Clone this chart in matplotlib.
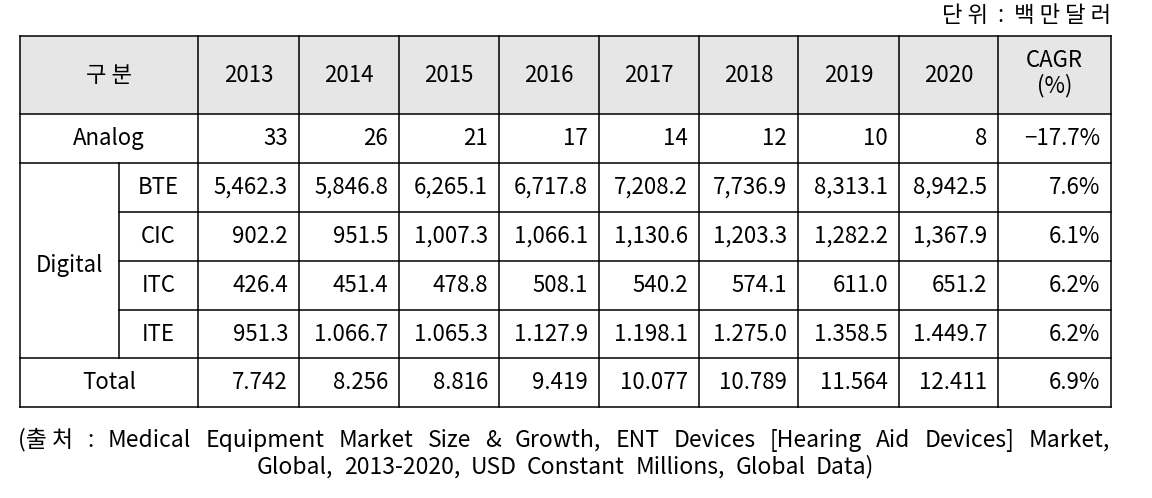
import matplotlib
matplotlib.use('Agg')
import matplotlib.pyplot as plt

plt.rcParams['font.family'] = ['Noto Sans CJK KR', 'DejaVu Sans']

# table data
years = ['2013', '2014', '2015', '2016', '2017', '2018', '2019', '2020']
analog = ['33', '26', '21', '17', '14', '12', '10', '8']
analog_cagr = '\u221217.7%'
digital_names = ['BTE', 'CIC', 'ITC', 'ITE']
bte = ['5,462.3', '5,846.8', '6,265.1', '6,717.8', '7,208.2', '7,736.9', '8,313.1', '8,942.5']
cic = ['902.2', '951.5', '1,007.3', '1,066.1', '1,130.6', '1,203.3', '1,282.2', '1,367.9']
itc = ['426.4', '451.4', '478.8', '508.1', '540.2', '574.1', '611.0', '651.2']
ite = ['951.3', '1.066.7', '1.065.3', '1.127.9', '1.198.1', '1.275.0', '1.358.5', '1.449.7']
digital_cagr = ['7.6%', '6.1%', '6.2%', '6.2%']
total = ['7.742', '8.256', '8.816', '9.419', '10.077', '10.789', '11.564', '12.411']
total_cagr = '6.9%'
unit_text = '단 위  :  백 만 달 러'
source_words = [['(출 처', ':', 'Medical', 'Equipment', 'Market', 'Size', '&', 'Growth,', 'ENT', 'Devices',
                 '[Hearing', 'Aid', 'Devices]', 'Market,'],
                ['Global,', '2013-2020,', 'USD', 'Constant', 'Millions,', 'Global', 'Data)']]

# layout (pixels)
W, H = 1152, 498
xs = [20, 198, 299, 399, 499, 599, 699, 798, 899, 998, 1111]
x_sub = 119
ys = [36, 114, 163, 212, 261, 310, 358, 407]
F = 16
F_src = 16.5
pad = 11
lw = 1.1

fig = plt.figure(figsize=(W / 100, H / 100), dpi=100)
ax = fig.add_axes([0, 0, 1, 1])
ax.set_xlim(0, W)
ax.set_ylim(H, 0)
ax.axis('off')

# header fill
ax.fill_between([xs[0], xs[-1]], ys[0], ys[1], color='#e6e6e6', lw=0)

# horizontal lines
for i, y in enumerate(ys):
    if 3 <= i <= 5:
        ax.plot([x_sub, xs[-1]], [y, y], color='black', lw=lw)
    else:
        ax.plot([xs[0], xs[-1]], [y, y], color='black', lw=lw)
# vertical lines
for x in xs:
    ax.plot([x, x], [ys[0], ys[-1]], color='black', lw=lw)
ax.plot([x_sub, x_sub], [ys[2], ys[6]], color='black', lw=lw)

def cy(r):
    return (ys[r] + ys[r + 1]) / 2

# header
ax.text((xs[0] + xs[1]) / 2, cy(0), '구 분', ha='center', va='center', fontsize=F)
for j, yr in enumerate(years):
    ax.text((xs[j + 1] + xs[j + 2]) / 2, cy(0), yr, ha='center', va='center', fontsize=F)
ax.text((xs[9] + xs[10]) / 2, cy(0) - 2, 'CAGR\n(%)', ha='center', va='center',
        fontsize=F, linespacing=1.1)

def row_values(r, vals, cagr):
    for j, v in enumerate(vals):
        ax.text(xs[j + 2] - pad, cy(r), v, ha='right', va='center', fontsize=F)
    ax.text(xs[10] - pad, cy(r), cagr, ha='right', va='center', fontsize=F)

# analog
ax.text((xs[0] + xs[1]) / 2, cy(1), 'Analog', ha='center', va='center', fontsize=F)
row_values(1, analog, analog_cagr)

# digital
ax.text((xs[0] + x_sub) / 2, (ys[2] + ys[6]) / 2 + 5, 'Digital', ha='center', va='center', fontsize=F)
for k, (name, vals) in enumerate(zip(digital_names, [bte, cic, itc, ite])):
    ax.text((x_sub + xs[1]) / 2, cy(2 + k), name, ha='center', va='center', fontsize=F)
    row_values(2 + k, vals, digital_cagr[k])

# total
ax.text((xs[0] + xs[1]) / 2, cy(6), 'Total', ha='center', va='center', fontsize=F)
row_values(6, total, total_cagr)

# unit
ax.text(xs[-1], 15, unit_text, ha='right', va='center', fontsize=F)

# source, words spread between given left/right edges
fig.canvas.draw()
renderer = fig.canvas.get_renderer()
def spread(words, x0, x1, y):
    arts = [ax.text(0, y, w, ha='left', va='center', fontsize=F_src) for w in words]
    widths = [a.get_window_extent(renderer).width for a in arts]
    gap = (x1 - x0 - sum(widths)) / (len(words) - 1)
    x = x0
    for a, w in zip(arts, widths):
        a.set_x(x)
        x += w + gap

spread(source_words[0], 18, 1110, 440)
spread(source_words[1], 257, 874, 467)

fig.savefig('out.png', dpi=100)
